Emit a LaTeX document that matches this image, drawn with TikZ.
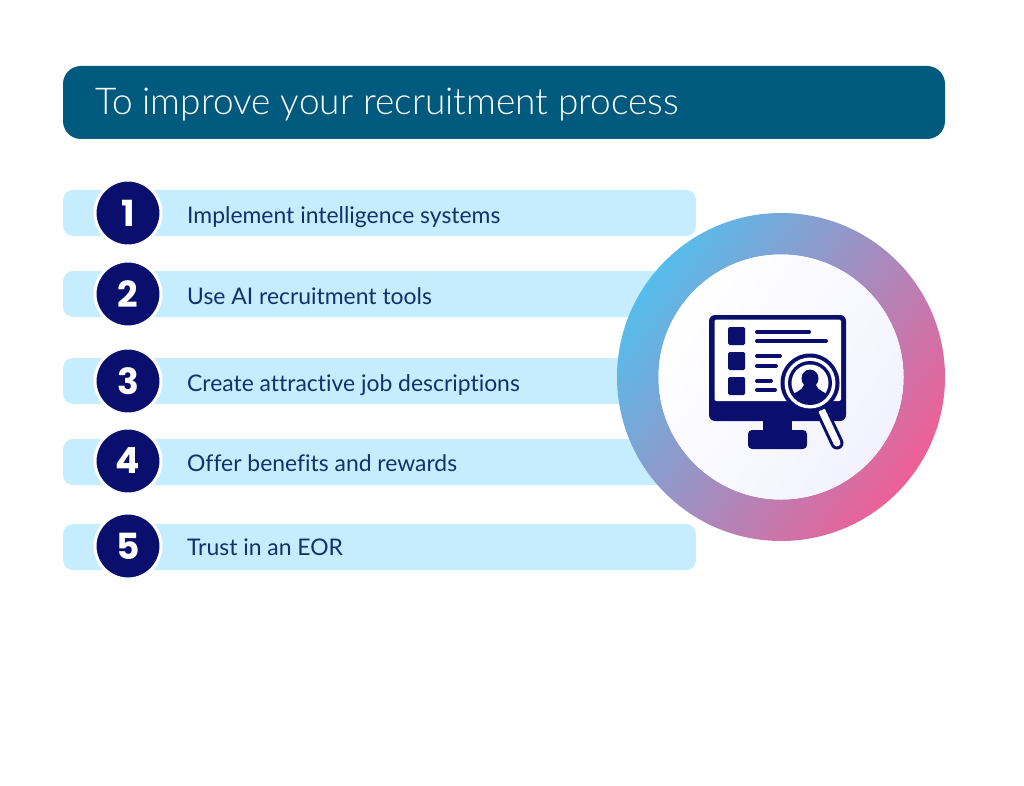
\documentclass[tikz,border=0pt]{standalone}
\usepackage{fontspec}
\setmainfont[Ligatures=NoCommon]{Lato}
\newfontfamily\titlefont[UprightFont=* Light]{Lato}
\newfontfamily\numfont[UprightFont=* Bold]{Poppins}
\definecolor{bannerblue}{HTML}{005A7E}
\definecolor{barblue}{HTML}{C5EDFE}
\definecolor{navyblue}{HTML}{0A0F6E}
\definecolor{textblue}{HTML}{12306E}
\definecolor{ringblue}{HTML}{55BDEC}
\definecolor{ringmid}{HTML}{A88FBE}
\definecolor{ringpink}{HTML}{EE5F95}
\tikzset{
  banner/.style={draw=none, fill=bannerblue, rounded corners=18pt, minimum width=882pt, minimum height=73pt, inner sep=0pt},
  bar/.style={draw=none, fill=barblue, rounded corners=10pt, minimum width=633pt, minimum height=46pt, inner sep=0pt},
  numdot/.style={circle, draw=white, line width=3pt, fill=navyblue, text=white, minimum size=66pt, inner sep=0pt, font=\fontsize{36pt}{36pt}\numfont},
  barlabel/.style={anchor=base west, inner sep=0pt, text=textblue, font=\fontsize{22.9pt}{26pt}\selectfont},
  iconline/.style={navyblue, line width=4pt, line cap=round},
}
\begin{document}
\begin{tikzpicture}[x=1pt,y=-1pt]
  \useasboundingbox (0,0) rectangle (1024,786);
  \node[banner] (banner) at (504,102.5) {};
  \node[anchor=base west, inner sep=0pt, text=white, font=\fontsize{37pt}{40pt}\titlefont] (title) at (95,115) {To improve your recruitment process};

  \node[bar] (bar1) at (379.5,213) {};
  \node[bar] (bar2) at (379.5,294) {};
  \node[bar] (bar3) at (379.5,381) {};
  \node[bar] (bar4) at (379.5,462) {};
  \node[bar] (bar5) at (379.5,547) {};

  \node[numdot] (num1) at (128,213) {1};
  \node[numdot] (num2) at (128,294) {2};
  \node[numdot] (num3) at (128,381) {3};
  \node[numdot] (num4) at (128,461) {4};
  \node[numdot] (num5) at (128,546) {5};

  \node[barlabel] (label1) at (187,223) {Implement intelligence systems};
  \node[barlabel] (label2) at (187,304) {Use AI recruitment tools};
  \node[barlabel] (label3) at (187,391) {Create attractive job descriptions};
  \node[barlabel] (label4) at (187,471) {Offer benefits and rewards};
  \node[barlabel] (label5) at (187,555) {Trust in an EOR};

  % ring and disc
  \path[even odd rule, left color=ringblue, middle color=ringmid, right color=ringpink, shading angle=55]
    (781,377) circle (164pt) (781,377) circle (122.5pt);
  \path[left color=white, right color=white!95!blue, shading angle=55] (781,377) circle (122.5pt);

  % monitor
  \fill[navyblue, rounded corners=6pt] (709,315) rectangle (846,421);
  \fill[white, rounded corners=2pt] (714.5,319.5) rectangle (841,401);
  \fill[navyblue] (763,420) rectangle (792,431);
  \fill[navyblue, rounded corners=4pt] (748,430) rectangle (807,449);
  \fill[navyblue, rounded corners=1.5pt] (728,327) rectangle (745,345);
  \fill[navyblue, rounded corners=1.5pt] (728,352) rectangle (745,370);
  \fill[navyblue, rounded corners=1.5pt] (728,377) rectangle (745,395);
  \draw[iconline] (757,331.7) -- (809,331.7);
  \draw[iconline] (757,341) -- (826,341);
  \draw[iconline] (757,356) -- (780,356);
  \draw[iconline] (757,366) -- (776,366);
  \draw[iconline] (757,381) -- (771,381);
  \draw[iconline] (757,390) -- (775,390);

  % lens
  \draw[navyblue, line width=13pt, line cap=round] (822,411) -- (837,443);
  \draw[white, line width=7pt, line cap=round] (822,411) -- (837,443);
  \fill[navyblue] (810,383) circle (29.5pt);
  \fill[white] (810,383) circle (25.5pt);
  \fill[navyblue] (810,383) circle (22pt);
  \fill[white] (810,383) circle (18.5pt);
  \begin{scope}
    \clip (810,383) circle (19pt);
    \fill[navyblue] (810,378.5) ellipse (8.5pt and 9pt);
    \fill[navyblue] (788,404) -- (790,396) .. controls (795,392) and (802,391) .. (804,385)
      -- (816,385) .. controls (818,391) and (825,392) .. (830,396) -- (832,404) -- cycle;
  \end{scope}
\end{tikzpicture}
\end{document}
